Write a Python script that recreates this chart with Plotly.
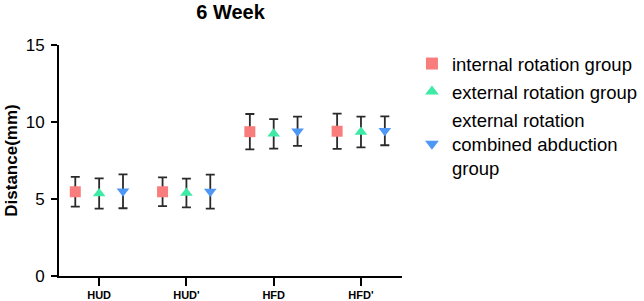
import plotly.graph_objects as go

categories = ["HUD", "HUD'", "HFD", "HFD'"]
series_names = ["internal rotation group", "external rotation group",
                "external rotation<br>combined abduction<br>group"]
internal_mean = [5.47, 5.47, 9.37, 9.40]
internal_sd = [0.97, 0.93, 1.15, 1.15]
external_mean = [5.36, 5.39, 9.23, 9.35]
external_sd = [0.98, 0.93, 0.96, 1.00]
combined_mean = [5.50, 5.48, 9.40, 9.43]
combined_sd = [1.10, 1.10, 0.95, 0.94]

colors = ["#FA7D7D", "#3FE9A6", "#4E97F4"]
symbols = ["square", "triangle-up", "triangle-down"]
means = [internal_mean, external_mean, combined_mean]
sds = [internal_sd, external_sd, combined_sd]

fig = go.Figure()
for i in range(3):
    fig.add_trace(go.Scatter(
        x=categories, y=means[i], mode="markers", name=series_names[i],
        offsetgroup=str(i), legendgroup="g" + str(i),
        marker=dict(symbol=symbols[i], color=colors[i], size=11, line=dict(width=0)),
        error_y=dict(type="data", array=sds[i], visible=True, color="#2a2a2a",
                     thickness=1.8, width=4.5),
    ))

fig.update_layout(
    width=644, height=301,
    margin=dict(l=59, r=242, t=45, b=25, autoexpand=False),
    paper_bgcolor="white", plot_bgcolor="white",
    scattermode="group", scattergap=0.18,
    font=dict(family="Liberation Sans, Arial, sans-serif", color="black"),
    title=dict(text="<b>6 Week</b>", x=(59 + 402) / 2 / 644, xanchor="center",
               y=0.96, yanchor="middle", font=dict(size=20)),
    showlegend=True,
    legend=dict(x=1.029, y=1.0, xanchor="left", yanchor="top",
                font=dict(size=18.5), itemsizing="constant", tracegroupgap=1),
)
fig.update_xaxes(
    type="category", range=[-0.46, 3.47], showline=True, linecolor="black",
    linewidth=2, ticks="outside", ticklen=8, tickwidth=2, tickcolor="black",
    showgrid=False, zeroline=False, automargin=False,
    tickfont=dict(size=11, family="Liberation Sans, Arial, sans-serif"),
    tickprefix="<b>", ticksuffix="</b>",
)
fig.update_yaxes(
    range=[0, 15], tickvals=[0, 5, 10, 15], showline=True, linecolor="black",
    linewidth=2, ticks="outside", ticklen=6, tickwidth=2, tickcolor="black",
    showgrid=False, zeroline=False, automargin=False, ticklabelstandoff=3,
    tickfont=dict(size=17), tickprefix="<b>", ticksuffix="</b>",
    title=dict(text="<b>Distance(mm)</b>", font=dict(size=17), standoff=4),
)
fig.write_html("out.html")
